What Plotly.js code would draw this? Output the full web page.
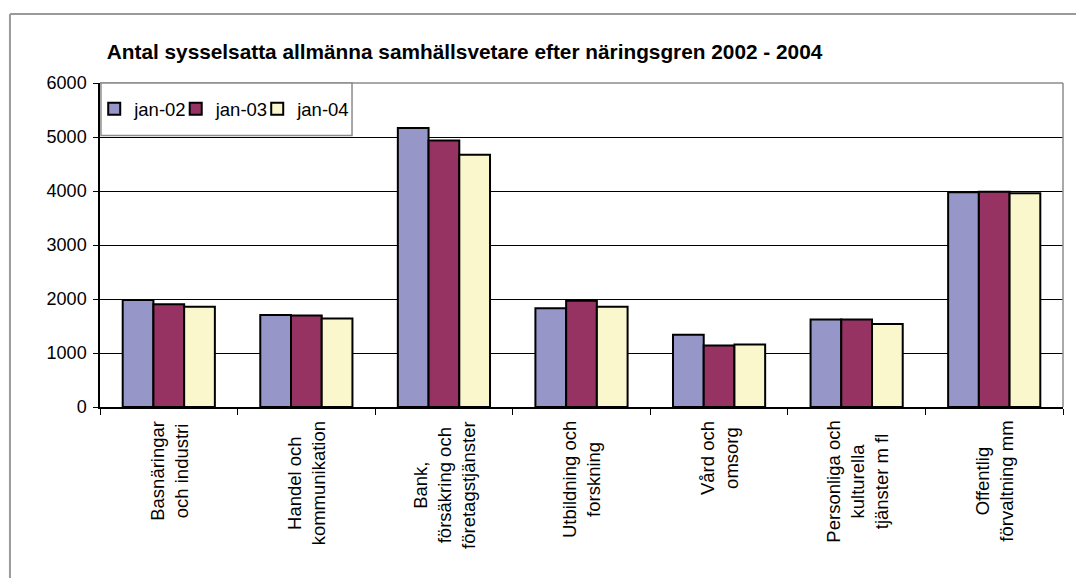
<!DOCTYPE html>
<html>
<head>
<meta charset="utf-8">
<script src="https://cdn.plot.ly/plotly-3.0.1.min.js"></script>
<style>html,body{margin:0;padding:0;background:#fff;}#chart{width:1076px;height:578px;}</style>
</head>
<body>
<div id="chart"></div>
<script>
const categories = [
  "Basnäringar<br>och industri",
  "Handel och<br>kommunikation",
  "Bank,<br>försäkring och<br>företagstjänster",
  "Utbildning och<br>forskning",
  "Vård och<br>omsorg",
  "Personliga och<br>kulturella<br>tjänster m fl",
  "Offentlig<br>förvaltning mm"
];
const seriesNames = ["jan-02", "jan-03", "jan-04"];
const jan02 = [1980, 1703, 5165, 1831, 1336, 1622, 3975];
const jan03 = [1905, 1696, 4935, 1967, 1139, 1622, 3985];
const jan04 = [1855, 1640, 4670, 1855, 1158, 1535, 3960];
const yTicks = [0, 1000, 2000, 3000, 4000, 5000, 6000];
const colors = ["#9696C8", "#963363", "#FAF7CC"];

const FONT = "Arial, 'Liberation Sans', sans-serif";
const seriesValues = [jan02, jan03, jan04];
const catIds = categories.map((c, i) => "c" + i);

const traces = seriesValues.map((vals, i) => ({
  type: "bar",
  name: seriesNames[i],
  x: catIds,
  y: vals,
  marker: { color: colors[i], line: { color: "#000", width: 2 } },
  hoverinfo: "y+name"
}));

const annotations = categories.map((c, i) => ({
  x: catIds[i], xref: "x",
  y: 0, yref: "paper",
  yanchor: "top", xanchor: "center",
  yshift: -12,
  text: c,
  textangle: -90,
  align: "center",
  showarrow: false,
  font: { family: FONT, size: 18.5, color: "#000" }
}));

const shapes = [
  { type: "line", xref: "paper", yref: "paper", x0: 0, x1: 1, y0: 1, y1: 1, line: { color: "#8c8c8c", width: 1.5 } },
  { type: "line", xref: "paper", yref: "paper", x0: 1, x1: 1, y0: 0, y1: 1, line: { color: "#8c8c8c", width: 1.5 } },
  { type: "rect", xref: "paper", yref: "paper", x0: 0.001, x1: 0.2617, y0: 0.838, y1: 1, fillcolor: "#fff", line: { color: "#8c8c8c", width: 1.5 }, layer: "above" },
  { type: "line", xref: "paper", yref: "paper", x0: -0.0935, x1: -0.0935, y0: -0.6, y1: 1.213, line: { color: "#9a9a9a", width: 2 } },
  { type: "line", xref: "paper", yref: "paper", x0: -0.0935, x1: 1.05, y0: 1.213, y1: 1.213, line: { color: "#9a9a9a", width: 2 } }
];

const layout = {
  width: 1076, height: 578,
  margin: { l: 100, r: 13, t: 83, b: 171 },
  paper_bgcolor: "#fff", plot_bgcolor: "#fff",
  font: { family: FONT, size: 18, color: "#000" },
  title: {
    text: "<b>Antal sysselsatta allmänna samhällsvetare efter näringsgren 2002 - 2004</b>",
    font: { family: FONT, size: 20.8, color: "#000" },
    xref: "paper", x: 0.007, xanchor: "left",
    yref: "container", y: 1 - 52 / 578, yanchor: "middle"
  },
  barmode: "group",
  bargap: 0.33,
  bargroupgap: 0,
  showlegend: true,
  legend: {
    orientation: "h",
    x: -0.006, xanchor: "left",
    y: 0.919, yanchor: "middle",
    bgcolor: "rgba(0,0,0,0)",
    borderwidth: 0,
    entrywidth: 36.5,
    font: { family: FONT, size: 18.5, color: "#000" },
    itemclick: false, itemdoubleclick: false,
    tracegroupgap: 0
  },
  xaxis: {
    type: "category",
    showticklabels: false,
    tickson: "boundaries",
    ticks: "outside", ticklen: 6, tickcolor: "#000", tickwidth: 1,
    showline: true, linecolor: "#000", linewidth: 1.5,
    showgrid: false, zeroline: false, fixedrange: true
  },
  yaxis: {
    range: [0, 6000],
    tickvals: yTicks,
    ticktext: yTicks.map(String),
    ticks: "outside", ticklen: 5, tickcolor: "#000", tickwidth: 1,
    showline: true, linecolor: "#000", linewidth: 1.5,
    showgrid: true, gridcolor: "#000", gridwidth: 1,
    zeroline: false,
    tickfont: { family: FONT, size: 18, color: "#000" },
    ticklabelstandoff: 3,
    fixedrange: true
  },
  annotations: annotations,
  shapes: shapes
};

Plotly.newPlot("chart", traces, layout, { displayModeBar: false }).then(function (gd) {
  // let the last legend entry's text run past the fixed entry width
  gd.querySelectorAll(".legend [clip-path]").forEach(function (el) {
    el.removeAttribute("clip-path");
  });
});
</script>
</body>
</html>
